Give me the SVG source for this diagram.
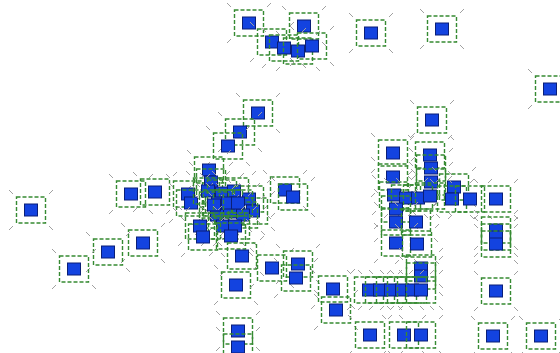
<svg xmlns="http://www.w3.org/2000/svg" xmlns:xlink="http://www.w3.org/1999/xlink" width="560" height="353" viewBox="0 0 560 353">
<style>
.tick{stroke:#a0a0a0;stroke-width:1;fill:none}
.halo{fill:none;stroke:#368a32;stroke-width:1.4;stroke-dasharray:4 2}
.sq{fill:#1343e0;stroke:#0a1f78;stroke-width:1}
</style>
<defs>
<g id="node">
<path class="tick" d="M-22,-20L-18,-16M18,-16L22,-20M-22,20L-18,16M18,16L22,20"/>
<rect class="halo" x="-14.5" y="-13" width="29" height="26"/>
<rect class="sq" x="-6.5" y="-6" width="13" height="12"/>
</g>
</defs>
<rect width="560" height="353" fill="#ffffff"/>
<g id="connectors"></g>
<g id="n1" transform="translate(249,23)"><use xlink:href="#node"/></g>
<g id="n2" transform="translate(304,26)"><use xlink:href="#node"/></g>
<g id="n3" transform="translate(272,42)"><use xlink:href="#node"/></g>
<g id="n4" transform="translate(284,48)"><use xlink:href="#node"/></g>
<g id="n5" transform="translate(298,51)"><use xlink:href="#node"/></g>
<g id="n6" transform="translate(312,46)"><use xlink:href="#node"/></g>
<g id="n7" transform="translate(371,33)"><use xlink:href="#node"/></g>
<g id="n8" transform="translate(442,29)"><use xlink:href="#node"/></g>
<g id="n9" transform="translate(550,89)"><use xlink:href="#node"/></g>
<g id="n10" transform="translate(432,120)"><use xlink:href="#node"/></g>
<g id="n11" transform="translate(258,113)"><use xlink:href="#node"/></g>
<g id="n12" transform="translate(240,132)"><use xlink:href="#node"/></g>
<g id="n13" transform="translate(228,146)"><use xlink:href="#node"/></g>
<g id="n14" transform="translate(31,210)"><use xlink:href="#node"/></g>
<g id="n15" transform="translate(131,194)"><use xlink:href="#node"/></g>
<g id="n16" transform="translate(155,192)"><use xlink:href="#node"/></g>
<g id="n17" transform="translate(143,243)"><use xlink:href="#node"/></g>
<g id="n18" transform="translate(108,252)"><use xlink:href="#node"/></g>
<g id="n19" transform="translate(74,269)"><use xlink:href="#node"/></g>
<g id="n20" transform="translate(209,170)"><use xlink:href="#node"/></g>
<g id="n21" transform="translate(211,182)"><use xlink:href="#node"/></g>
<g id="n22" transform="translate(188,194)"><use xlink:href="#node"/></g>
<g id="n23" transform="translate(191,203)"><use xlink:href="#node"/></g>
<g id="n24" transform="translate(208,191)"><use xlink:href="#node"/></g>
<g id="n25" transform="translate(222,193)"><use xlink:href="#node"/></g>
<g id="n26" transform="translate(234,191)"><use xlink:href="#node"/></g>
<g id="n27" transform="translate(249,199)"><use xlink:href="#node"/></g>
<g id="n28" transform="translate(253,211)"><use xlink:href="#node"/></g>
<g id="n29" transform="translate(243,215)"><use xlink:href="#node"/></g>
<g id="n30" transform="translate(230,212)"><use xlink:href="#node"/></g>
<g id="n31" transform="translate(217,215)"><use xlink:href="#node"/></g>
<g id="n32" transform="translate(218,203)"><use xlink:href="#node"/></g>
<g id="n33" transform="translate(214,205)"><use xlink:href="#node"/></g>
<g id="n34" transform="translate(228,203)"><use xlink:href="#node"/></g>
<g id="n35" transform="translate(238,203)"><use xlink:href="#node"/></g>
<g id="n36" transform="translate(223,226)"><use xlink:href="#node"/></g>
<g id="n37" transform="translate(235,226)"><use xlink:href="#node"/></g>
<g id="n38" transform="translate(231,236)"><use xlink:href="#node"/></g>
<g id="n39" transform="translate(200,226)"><use xlink:href="#node"/></g>
<g id="n40" transform="translate(203,237)"><use xlink:href="#node"/></g>
<g id="n41" transform="translate(285,190)"><use xlink:href="#node"/></g>
<g id="n42" transform="translate(293,197)"><use xlink:href="#node"/></g>
<g id="n43" transform="translate(242,256)"><use xlink:href="#node"/></g>
<g id="n44" transform="translate(236,285)"><use xlink:href="#node"/></g>
<g id="n45" transform="translate(272,268)"><use xlink:href="#node"/></g>
<g id="n46" transform="translate(298,264)"><use xlink:href="#node"/></g>
<g id="n47" transform="translate(296,278)"><use xlink:href="#node"/></g>
<g id="n48" transform="translate(333,289)"><use xlink:href="#node"/></g>
<g id="n49" transform="translate(336,310)"><use xlink:href="#node"/></g>
<g id="n50" transform="translate(238,331)"><use xlink:href="#node"/></g>
<g id="n51" transform="translate(238,347)"><use xlink:href="#node"/></g>
<g id="n52" transform="translate(393,153)"><use xlink:href="#node"/></g>
<g id="n53" transform="translate(430,155)"><use xlink:href="#node"/></g>
<g id="n54" transform="translate(431,168)"><use xlink:href="#node"/></g>
<g id="n55" transform="translate(393,177)"><use xlink:href="#node"/></g>
<g id="n56" transform="translate(431,182)"><use xlink:href="#node"/></g>
<g id="n57" transform="translate(454,187)"><use xlink:href="#node"/></g>
<g id="n58" transform="translate(394,195)"><use xlink:href="#node"/></g>
<g id="n59" transform="translate(406,198)"><use xlink:href="#node"/></g>
<g id="n60" transform="translate(418,198)"><use xlink:href="#node"/></g>
<g id="n61" transform="translate(430,196)"><use xlink:href="#node"/></g>
<g id="n62" transform="translate(452,199)"><use xlink:href="#node"/></g>
<g id="n63" transform="translate(470,199)"><use xlink:href="#node"/></g>
<g id="n64" transform="translate(496,199)"><use xlink:href="#node"/></g>
<g id="n65" transform="translate(396,209)"><use xlink:href="#node"/></g>
<g id="n66" transform="translate(396,222)"><use xlink:href="#node"/></g>
<g id="n67" transform="translate(416,222)"><use xlink:href="#node"/></g>
<g id="n68" transform="translate(396,243)"><use xlink:href="#node"/></g>
<g id="n69" transform="translate(417,244)"><use xlink:href="#node"/></g>
<g id="n70" transform="translate(496,230)"><use xlink:href="#node"/></g>
<g id="n71" transform="translate(496,237)"><use xlink:href="#node"/></g>
<g id="n72" transform="translate(496,244)"><use xlink:href="#node"/></g>
<g id="n73" transform="translate(421,268)"><use xlink:href="#node"/></g>
<g id="n74" transform="translate(421,276)"><use xlink:href="#node"/></g>
<g id="n75" transform="translate(369,290)"><use xlink:href="#node"/></g>
<g id="n76" transform="translate(380,290)"><use xlink:href="#node"/></g>
<g id="n77" transform="translate(391,290)"><use xlink:href="#node"/></g>
<g id="n78" transform="translate(402,290)"><use xlink:href="#node"/></g>
<g id="n79" transform="translate(412,290)"><use xlink:href="#node"/></g>
<g id="n80" transform="translate(421,290)"><use xlink:href="#node"/></g>
<g id="n81" transform="translate(496,291)"><use xlink:href="#node"/></g>
<g id="n82" transform="translate(370,335)"><use xlink:href="#node"/></g>
<g id="n83" transform="translate(404,335)"><use xlink:href="#node"/></g>
<g id="n84" transform="translate(421,335)"><use xlink:href="#node"/></g>
<g id="n85" transform="translate(493,336)"><use xlink:href="#node"/></g>
<g id="n86" transform="translate(541,336)"><use xlink:href="#node"/></g>
</svg>
